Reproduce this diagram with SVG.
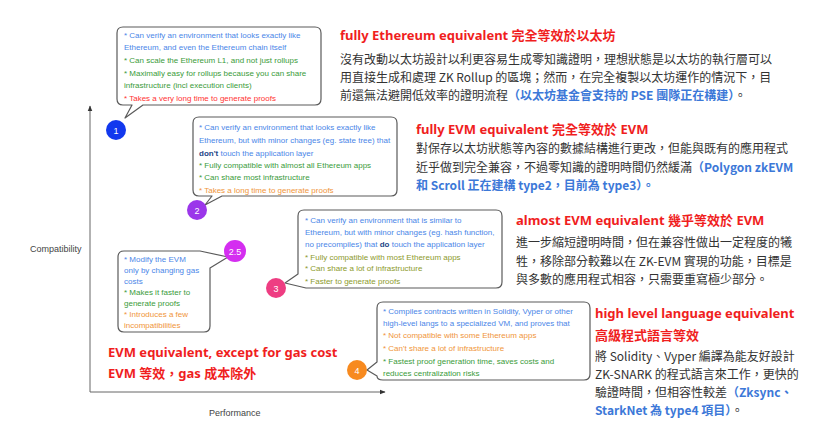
<svg xmlns="http://www.w3.org/2000/svg" width="818" height="429" viewBox="0 0 818 429" lang="zh-TW" xml:lang="zh-TW">
<style>
.bub{fill:#fff;stroke:#5a5a5a;stroke-width:1.2;stroke-linejoin:round}
.bt{font-family:"Liberation Sans",Arial,sans-serif;font-size:8px}
.b{fill:#4a86e8}.g{fill:#3a9b3a}.o{fill:#f0953a}.r{fill:#ff3333}.ol{fill:#8c9a2c}
.db{fill:#1c4587;font-weight:bold}
.ttl{font-family:"Noto Sans","Noto Sans CJK TC",sans-serif;font-size:13px;font-weight:bold;fill:#f01e1e}
.big{font-family:"Noto Sans","Noto Sans CJK TC",sans-serif;font-size:13px;font-weight:bold;fill:#f01e1e}
.body{font-family:"Noto Sans CJK TC","Noto Sans",sans-serif;font-size:12px;fill:#333}
.cb{fill:#3c78d8;font-weight:bold}
.num{font-family:"Liberation Sans",Arial,sans-serif;font-size:9px;fill:#fff;text-anchor:middle}
.ax{stroke:#666;stroke-width:1;fill:none}
.axl{font-family:"Liberation Sans",Arial,sans-serif;font-size:9px;fill:#444}
</style>
<defs>
<marker id="arr" viewBox="0 0 10 10" refX="9" refY="5" markerWidth="6" markerHeight="6" orient="auto">
<path d="M0,1 L10,5 L0,9 Z" fill="#333"/>
</marker>
</defs>
<g id="connectors">
<path class="ax" d="M90,392 V106" marker-end="url(#arr)"/>
<path class="ax" d="M90,392 H385" marker-end="url(#arr)"/>
</g>
<text class="axl" x="30" y="252" lang="en">Compatibility</text>
<text class="axl" x="209" y="416" lang="en">Performance</text>

<g id="node1" lang="en">
<path class="bub" d="M123,27 H315 Q321,27 321,33 V99 Q321,105 315,105 H143 L125,118 L132,105 H123 Q117,105 117,99 V33 Q117,27 123,27 Z"/>
<text class="bt b" x="124" y="38">* Can verify an environment that looks exactly like</text>
<text class="bt b" x="124" y="50">Ethereum, and even the Ethereum chain itself</text>
<text class="bt g" x="124" y="62.5">* Can scale the Ethereum L1, and not just rollups</text>
<text class="bt g" x="124" y="75.5">* Maximally easy for rollups because you can share</text>
<text class="bt g" x="124" y="88">infrastructure (incl execution clients)</text>
<text class="bt r" x="124" y="100.5">* Takes a very long time to generate proofs</text>
<circle cx="116" cy="130" r="10" fill="#1238ee"/>
<text class="num" x="116" y="133.5">1</text>
</g>

<g id="node2" lang="en">
<path class="bub" d="M199,117 H391 Q397,117 397,123 V190 Q397,196 391,196 H222 L205,205 L212,196 H199 Q193,196 193,190 V123 Q193,117 199,117 Z"/>
<text class="bt b" x="199" y="130">* Can verify an environment that looks exactly like</text>
<text class="bt b" x="199" y="143">Ethereum, but with minor changes (eg. state tree) that</text>
<text class="bt b" x="199" y="155.5"><tspan class="db">don't</tspan> touch the application layer</text>
<text class="bt g" x="199" y="168">* Fully compatible with almost all Ethereum apps</text>
<text class="bt g" x="199" y="180">* Can share most infrastructure</text>
<text class="bt o" x="199" y="192.5">* Takes a long time to generate proofs</text>
<circle cx="197" cy="210" r="10" fill="#9b36ea"/>
<text class="num" x="197" y="213.5">2</text>
</g>

<g id="node25" lang="en">
<path class="bub" d="M124,251 H200 L228,257 L210,268 V326 Q210,332 204,332 H124 Q118,332 118,326 V257 Q118,251 124,251 Z"/>
<text class="bt b" x="124" y="262">* Modify the EVM</text>
<text class="bt b" x="124" y="273">only by changing gas</text>
<text class="bt b" x="124" y="284">costs</text>
<text class="bt g" x="124" y="295">* Makes it faster to</text>
<text class="bt g" x="124" y="306">generate proofs</text>
<text class="bt o" x="124" y="317">* Introduces a few</text>
<text class="bt o" x="124" y="328">incompatibilities</text>
<circle cx="235" cy="251" r="11" fill="#d42ef0"/>
<text class="num" x="235" y="254.5">2.5</text>
</g>

<g id="node3" lang="en">
<path class="bub" d="M304,210 H496 Q502,210 502,216 V282 Q502,288 496,288 H306 L285,283 L298,274 V216 Q298,210 304,210 Z"/>
<text class="bt b" x="305" y="223">* Can verify an environment that is similar to</text>
<text class="bt b" x="305" y="235">Ethereum, but with minor changes (eg. hash function,</text>
<text class="bt b" x="305" y="246.5">no precompiles) that <tspan class="db">do</tspan> touch the application layer</text>
<text class="bt ol" x="305" y="259.5">* Fully compatible with most Ethereum apps</text>
<text class="bt ol" x="305" y="271">* Can share a lot of infrastructure</text>
<text class="bt ol" x="305" y="283.5">* Faster to generate proofs</text>
<circle cx="276" cy="288" r="10" fill="#ee3d82"/>
<text class="num" x="276" y="291.5">3</text>
</g>

<g id="node4" lang="en">
<path class="bub" d="M383,302 H584 Q590,302 590,308 V374 Q590,380 584,380 H383 Q377,380 377,376 L367,370 L377,362 V308 Q377,302 383,302 Z"/>
<text class="bt b" x="383" y="314">* Compiles contracts written in Solidity, Vyper or other</text>
<text class="bt b" x="383" y="325.5">high-level langs to a specialized VM, and proves that</text>
<text class="bt o" x="383" y="337.5">* Not compatible with some Ethereum apps</text>
<text class="bt o" x="383" y="350.5">* Can't share a lot of infrastructure</text>
<text class="bt g" x="383" y="363.5">* Fastest proof generation time, saves costs and</text>
<text class="bt g" x="383" y="376">reduces centralization risks</text>
<circle cx="357" cy="370" r="10" fill="#f78a1f"/>
<text class="num" x="357" y="373.5">4</text>
</g>

<g id="desc1">
<text class="ttl" x="340" y="40">fully Ethereum equivalent 完全等效於以太坊</text>
<text class="body" x="340" y="64">沒有改動以太坊設計以利更容易生成零知識證明，理想狀態是以太坊的執行層可以</text>
<text class="body" x="340" y="82">用直接生成和處理 ZK Rollup 的區塊；然而，在完全複製以太坊運作的情況下，目</text>
<text class="body" x="340" y="100">前還無法避開低效率的證明流程<tspan class="cb">（以太坊基金會支持的 PSE 團隊正在構建）</tspan>。</text>
</g>

<g id="desc2">
<text class="ttl" x="416" y="134">fully EVM equivalent 完全等效於 EVM</text>
<text class="body" x="416" y="153">對保存以太坊狀態等內容的數據結構進行更改，但能與既有的應用程式</text>
<text class="body" x="416" y="172">近乎做到完全兼容，不過零知識的證明時間仍然緩滿<tspan class="cb">（Polygon zkEVM</tspan></text>
<text class="body cb" x="416" y="190">和 Scroll 正在建構 type2，目前為 type3）。</text>
</g>

<g id="desc3">
<text class="ttl" x="516" y="225">almost EVM equivalent 幾乎等效於 EVM</text>
<text class="body" x="516" y="247">進一步縮短證明時間，但在兼容性做出一定程度的犧</text>
<text class="body" x="516" y="266">牲，移除部分較難以在 ZK-EVM 實現的功能，目標是</text>
<text class="body" x="516" y="284">與多數的應用程式相容，只需要重寫極少部分。</text>
</g>

<g id="desc4">
<text class="ttl" x="595" y="318">high level language equivalent</text>
<text class="ttl" x="595" y="340">高級程式語言等效</text>
<text class="body" x="595" y="361">將 Solidity、Vyper 編譯為能友好設計</text>
<text class="body" x="595" y="379">ZK-SNARK 的程式語言來工作，更快的</text>
<text class="body" x="595" y="397">驗證時間，但相容性較差<tspan class="cb">（Zksync、</tspan></text>
<text class="body" x="595" y="415"><tspan class="cb">StarkNet 為 type4 項目）</tspan>。</text>
</g>

<g id="desc25">
<text class="big" x="108" y="357">EVM equivalent, except for gas cost</text>
<text class="big" x="108" y="378">EVM 等效，gas 成本除外</text>
</g>
</svg>
